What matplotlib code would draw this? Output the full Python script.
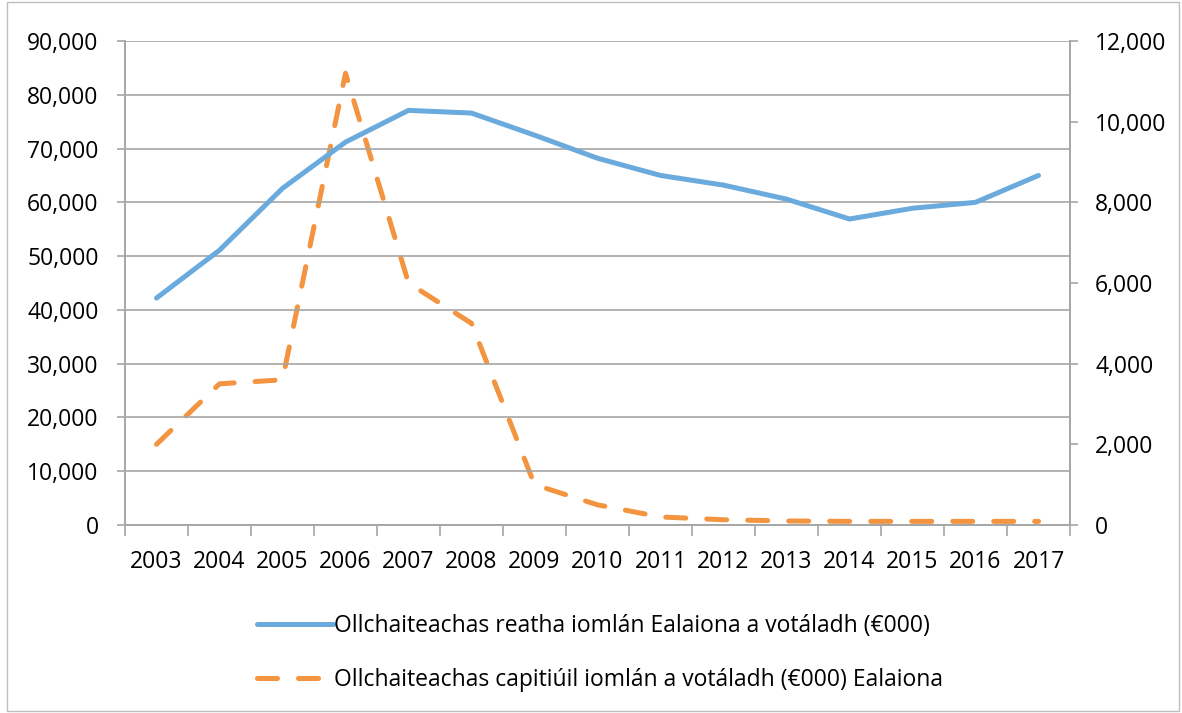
import matplotlib

matplotlib.use("Agg")
import matplotlib.pyplot as plt
from matplotlib.patches import Rectangle
from matplotlib.ticker import FuncFormatter

plt.rcParams["font.family"] = ["Open Sans", "DejaVu Sans"]

years = ["2003", "2004", "2005", "2006", "2007", "2008", "2009", "2010",
         "2011", "2012", "2013", "2014", "2015", "2016", "2017"]
current_spend = [42200, 51100, 62600, 71200, 77100, 76600, 72500, 68200,
                 65000, 63200, 60600, 56900, 58900, 60000, 65000]
capital_spend = [2000, 3500, 3600, 11200, 6000, 5000, 1000, 500,
                 200, 130, 100, 90, 90, 90, 90]
current_label = "Ollchaiteachas reatha iomlán Ealaiona a votáladh (€000)"
capital_label = "Ollchaiteachas capitiúil iomlán a votáladh (€000) Ealaiona"

BLUE = "#6aaadc"
ORANGE = "#f39440"
GRID = "#a6a6a6"
FS = 16.5

fig = plt.figure(figsize=(11.82, 7.13), dpi=100)
ax = fig.add_axes([125 / 1182, 1 - 525 / 713, (1070 - 125) / 1182, (525 - 41) / 713])
ax2 = ax.twinx()

x = list(range(len(years)))
l1, = ax.plot(x, current_spend, color=BLUE, lw=3.6, solid_capstyle="round",
              solid_joinstyle="round", label=current_label, zorder=3)
l2, = ax2.plot(x, capital_spend, color=ORANGE, lw=3.6, dash_capstyle="round",
               dash_joinstyle="round", dashes=(4.0, 4.2), label=capital_label, zorder=3)

ax.set_xlim(-0.5, len(years) - 0.5)
ax.set_ylim(0, 90000)
ax.set_yticks(range(0, 90001, 10000))
ax2.set_ylim(0, 12000)
ax2.set_yticks(range(0, 12001, 2000))
fmt = FuncFormatter(lambda v, p: f"{int(v):,}")
ax.yaxis.set_major_formatter(fmt)
ax2.yaxis.set_major_formatter(fmt)

ax.set_xticks(x)
ax.set_xticklabels(years)
ax.set_xticks([i - 0.5 for i in range(len(years) + 1)], minor=True)
ax.tick_params(axis="x", which="major", length=0, pad=18, labelsize=FS)
ax.tick_params(axis="x", which="minor", length=8, width=1.2, color=GRID, direction="out")
ax.tick_params(axis="y", length=6, width=1.2, color=GRID, pad=13, labelsize=FS)
ax2.tick_params(axis="y", length=6, width=1.2, color=GRID, pad=12, labelsize=FS)

ax.grid(axis="y", color=GRID, lw=1.2)
ax.set_axisbelow(True)
for a in (ax, ax2):
    a.spines["top"].set_visible(False)
    for s in ("left", "right", "bottom"):
        a.spines[s].set_color(GRID)
        a.spines[s].set_linewidth(1.2)
ax.set_zorder(ax2.get_zorder() + 1)
ax.patch.set_visible(False)

fig.legend(handles=[l1, l2], loc="upper left", bbox_to_anchor=(248 / 1182, 1 - 605 / 713),
           frameon=False, prop={"size": FS}, handlelength=3.3, handletextpad=0.05,
           labelspacing=1.3, borderaxespad=0)

fig.patches.append(Rectangle((7 / 1182, 2 / 713), 1172 / 1182, 709 / 713,
                             transform=fig.transFigure, fill=False,
                             edgecolor="#bfbfbf", lw=1.0))

fig.savefig("out.png", dpi=100)
